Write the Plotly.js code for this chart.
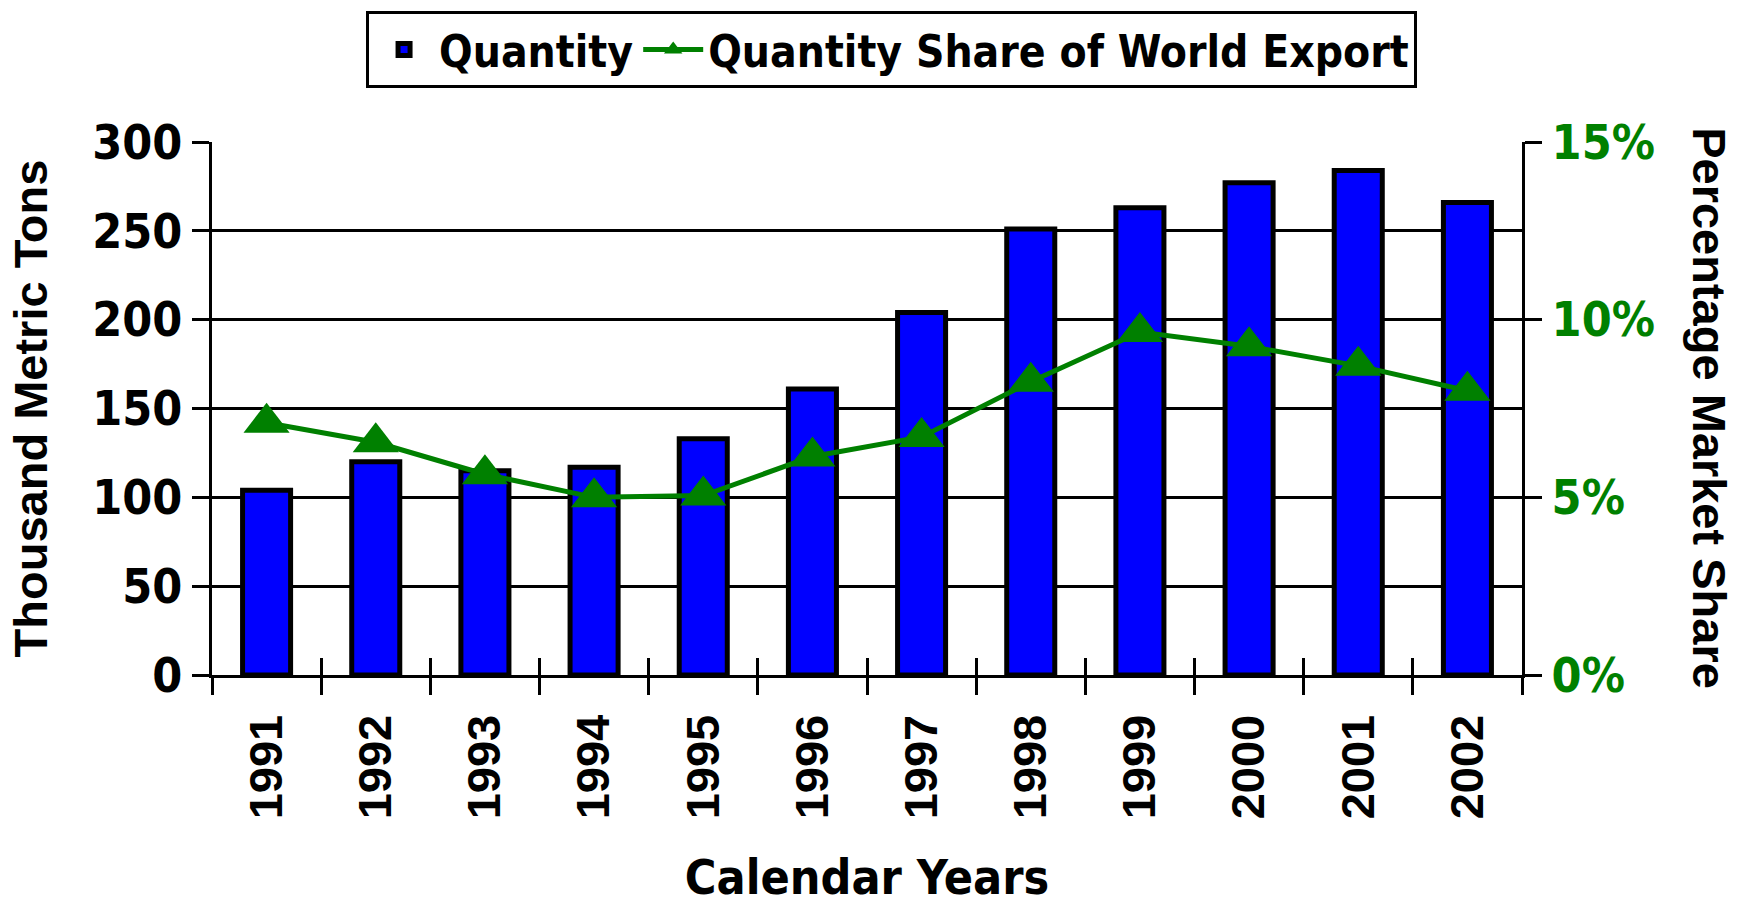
<!DOCTYPE html>
<html>
<head>
<meta charset="utf-8">
<script src="https://cdn.plot.ly/plotly-3.0.1.min.js"></script>
<style>html,body{margin:0;padding:0;background:#fff}#chart{width:1748px;height:905px}</style>
</head>
<body>
<div id="chart"></div>
<script>
const years = ['1991','1992','1993','1994','1995','1996','1997','1998','1999','2000','2001','2002'];
const quantity = [104, 120, 115, 117, 133, 161, 204, 251, 263, 277, 284, 266];
const share = [0.071, 0.0655, 0.0565, 0.050, 0.0505, 0.0615, 0.067, 0.0825, 0.0965, 0.0925, 0.087, 0.080];
const leftTicks = [0, 50, 100, 150, 200, 250, 300];
const rightTicks = [0, 0.05, 0.10, 0.15];
const rightTickText = ['0%', '5%', '10%', '15%'];

const NARROW = '"DejaVu Sans Condensed", "Liberation Sans Narrow", sans-serif';
const WIDE = '"Liberation Sans", Arial, sans-serif';

const traces = [
  {
    type: 'bar', name: 'Quantity', x: years, y: quantity,
    xaxis: 'x', yaxis: 'y', width: 0.44,
    marker: {color: '#0000FF', line: {color: '#000000', width: 5}}
  },
  {
    type: 'scatter', mode: 'lines+markers', name: 'Quantity Share of World Export',
    x: years, y: share, xaxis: 'x2', yaxis: 'y2',
    line: {color: '#008000', width: 5},
    marker: {symbol: 'triangle-up', size: 40, color: '#008000'}
  }
];

const layout = {
  width: 1748, height: 905,
  margin: {l: 212, r: 226, t: 138, b: 230},
  paper_bgcolor: '#ffffff', plot_bgcolor: '#ffffff',
  showlegend: true,
  legend: {
    orientation: 'h', x: 0.1176, y: 1.245, xanchor: 'left', yanchor: 'top',
    bordercolor: '#000000', borderwidth: 3, bgcolor: '#ffffff',
    font: {family: NARROW, size: 44, color: '#000000', weight: 'bold'},
    itemwidth: 60, traceorder: 'normal'
  },
  xaxis: {
    type: 'category', domain: [0, 1], range: [-0.5, 11.5], tickson: 'boundaries',
    ticks: 'outside', ticklen: 17, tickwidth: 3, tickcolor: '#000',
    showline: true, linecolor: '#000', linewidth: 3,
    showgrid: false, zeroline: false,
    tickangle: -90,
    tickfont: {family: WIDE, size: 47, color: '#000', weight: 'bold'},
    ticklabelstandoff: 18,
    title: {text: 'Calendar Years', font: {family: NARROW, size: 48, color: '#000', weight: 'bold'}, standoff: 52}
  },
  xaxis2: {
    type: 'category', overlaying: 'x', matches: 'x', side: 'bottom', anchor: 'y',
    range: [-0.5, 11.5],
    tickson: 'boundaries', ticks: 'inside', ticklen: 17, tickwidth: 3, tickcolor: '#000',
    showticklabels: false, showline: false, showgrid: false, zeroline: false
  },
  yaxis: {
    range: [0, 300], tickvals: leftTicks, ticks: 'outside', ticklen: 17, tickwidth: 3, tickcolor: '#000',
    showline: true, linecolor: '#000', linewidth: 3,
    showgrid: true, gridcolor: '#000', gridwidth: 3, zeroline: false,
    tickfont: {family: NARROW, size: 48, color: '#000', weight: 'bold'},
    title: {text: 'Thousand Metric Tons', font: {family: WIDE, size: 47, color: '#000', weight: 'bold'}, standoff: 30}
  },
  yaxis2: {
    range: [0, 0.15], overlaying: 'y', side: 'right', anchor: 'x2',
    tickvals: rightTicks, ticktext: rightTickText,
    ticks: 'outside', ticklen: 17, tickwidth: 3, tickcolor: '#000',
    showline: true, linecolor: '#000', linewidth: 3,
    showgrid: false, zeroline: false,
    tickfont: {family: NARROW, size: 48, color: '#008000', weight: 'bold'}
  },
  annotations: [{
    text: 'Percentage Market Share', textangle: 90,
    xref: 'paper', yref: 'paper', x: 1.143, y: 0.5, xanchor: 'center', yanchor: 'middle',
    showarrow: false, font: {family: WIDE, size: 47, color: '#000', weight: 'bold'}
  }]
};

Plotly.newPlot('chart', traces, layout, {displayModeBar: false, staticPlot: true});
</script>
</body>
</html>
